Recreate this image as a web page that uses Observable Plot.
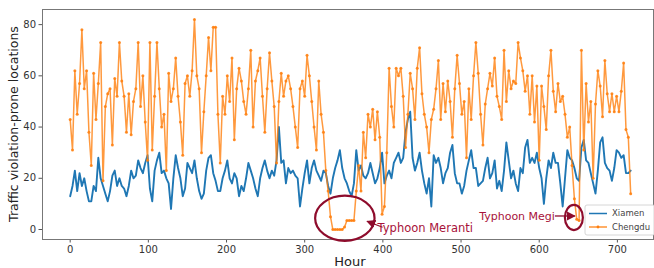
<!DOCTYPE html>
<html><head><meta charset="utf-8">
<script src="https://cdn.jsdelivr.net/npm/d3@7"></script>
<script src="https://cdn.jsdelivr.net/npm/@observablehq/plot@0.6"></script>
<style>body{margin:0;background:#fff;} svg{display:block;}</style>
</head><body><div id="chart"></div>
<script>
// sampled every 3 hours (hour index 0..717)
const hourStep = 3;
const xiamen = [
13,17,23,15,22,17,20,15,11,11,
17,15,28,20,17,14,11,15,21,23,
17,20,17,16,13,17,23,20,21,27,
24,22,26,29,16,11,23,27,30,22,
23,20,18,8,20,29,24,20,13,16,
26,24,22,27,20,15,12,14,23,28,
29,22,19,15,15,20,23,27,20,18,
22,20,13,17,15,20,26,23,20,16,
13,20,24,27,23,20,23,21,27,40,
26,27,18,24,22,23,21,20,9,16,
22,27,18,24,27,23,21,19,23,22,
17,14,20,24,27,31,24,20,18,15,
13,18,31,23,25,21,20,22,26,22,
18,20,24,30,18,21,23,20,26,28,
30,26,28,38,43,46,28,23,26,30,
23,18,14,20,9,29,26,28,24,18,
22,24,30,33,22,18,18,14,17,23,
27,31,24,24,17,18,19,24,28,20,
22,27,16,19,15,23,34,27,20,23,
18,15,24,22,32,35,26,28,26,30,
24,20,10,20,27,24,30,26,26,18,
9,20,31,28,27,24,20,19,32,35,
27,26,22,18,14,23,34,36,26,24,
23,19,24,31,30,28,29,22,22,23
];
const chengdu = [
43,31,62,45,57,78,55,62,38,25,
61,43,57,73,19,48,53,55,33,59,
52,73,58,52,38,53,37,50,55,73,
48,60,42,27,73,31,52,73,55,40,
45,23,61,50,55,67,52,42,29,57,
60,52,62,82,60,55,30,46,60,75,
62,79,79,45,26,52,45,60,50,67,
35,55,63,58,50,45,55,70,40,58,
62,67,52,38,55,69,58,48,26,50,
61,52,58,60,55,48,40,32,55,58,
52,68,60,50,40,31,58,45,38,23,
15,5,0,0,0,0,0,1,3.5,3.5,
3.5,3.5,15,25,15,38,28,45,40,47,
35,46,36,6,9,30,63,48,40,63,
60,63,52,32,45,61,55,43,63,71,
53,45,40,30,43,47,55,66,43,57,
46,58,50,36,55,68,57,45,50,28,
55,43,60,73,61,45,33,49,55,61,
56,67,52,48,43,70,50,62,55,58,
57,73,67,62,54,60,45,60,42,56,
27,56,48,39,60,70,54,46,57,50,
52,45,36,40,25,12,4,3.5,70,31,
57,42,50,20,49,62,56,44,66,53,
46,53,46,52,46,54,65,39,36,14
];
const xTicks = [0,100,200,300,400,500,600,700];
const yTicks = [0,20,40,60,80];
const seriesNames = ["Xiamen","Chengdu"];
const seriesColors = ["#1f77b4","#ff7f0e"];
const annotations = [
  {label:"Typhoon Meranti", h:352, v:4.2, rxH:38, ryV:8.8},
  {label:"Typhoon Megi", h:645, v:4.5, rxH:11.5, ryV:4.9}
];

const xiamenData = xiamen.map((v,i)=>({h:i*hourStep, v}));
const chengduData = chengdu.map((v,i)=>({h:i*hourStep, v}));

const chart = Plot.plot({
  width: 654, height: 268,
  marginLeft: 42, marginRight: 1, marginTop: 9, marginBottom: 29,
  x: {domain: [-35.4, 746.2], ticks: xTicks, label: null},
  y: {domain: [-3.9, 85.9], ticks: yTicks, label: null},
  style: {fontFamily: "DejaVu Sans", fontSize: "10px", color: "#333", background: "#fff"},
  marks: [
    Plot.axisX({ticks: xTicks, tickSize: 3.5, tickPadding: 2.5, label: null, stroke: "#555"}),
    Plot.axisY({ticks: yTicks, tickSize: 3.5, tickPadding: 3, label: null, stroke: "#555"}),
    Plot.line(xiamenData, {x:"h", y:"v", stroke: seriesColors[0], strokeWidth: 1.9}),
    Plot.line(chengduData, {x:"h", y:"v", stroke: seriesColors[1], strokeWidth: 1.5, strokeOpacity: 0.8}),
    Plot.dot(chengduData, {x:"h", y:"v", r: 1.5, fill: seriesColors[1], stroke: "none", fillOpacity: 0.85}),
    Plot.frame({stroke: "#777", strokeWidth: 1})
  ]
});
document.getElementById("chart").appendChild(chart);

const svg = d3.select(chart);
const sx = chart.scale("x"), sy = chart.scale("y");
const red = "#a8123a";

// axis titles
svg.append("text").attr("x", 350).attr("y", 266).attr("text-anchor","middle")
  .attr("font-size", 13).attr("fill","#222").text("Hour");
svg.append("text").attr("transform","translate(18,124) rotate(-90)").attr("text-anchor","middle")
  .attr("font-size", 12.5).attr("fill","#222").text("Traffic violation-prone locations");

// annotations
const defs = svg.append("defs");
defs.append("marker").attr("id","ah").attr("viewBox","0 0 10 10").attr("refX",9).attr("refY",5)
  .attr("markerWidth",7).attr("markerHeight",7).attr("orient","auto-start-reverse")
  .append("path").attr("d","M0,0L10,5L0,10z").attr("fill", "#8e0c2c");

annotations.forEach((a, i) => {
  const cx = sx.apply(a.h), cy = sy.apply(a.v);
  const rx = sx.apply(a.h + a.rxH) - cx, ry = cy - sy.apply(a.v + a.ryV);
  svg.append("ellipse").attr("cx",cx).attr("cy",cy).attr("rx",rx).attr("ry",ry)
    .attr("fill","none").attr("stroke","#8e0c2c").attr("stroke-width",2.2);
  if (i === 0) {
    svg.append("line").attr("x1", cx + rx + 8).attr("y1", cy + 9).attr("x2", cx + rx*0.75).attr("y2", cy + 3)
      .attr("stroke","#8e0c2c").attr("stroke-width",1.3).attr("marker-end","url(#ah)");
    svg.append("text").attr("x", cx + rx + 3).attr("y", cy + 10).attr("dy","0.35em").attr("text-anchor","start")
      .attr("font-size", 11.5).attr("fill", red).text(a.label);
  } else {
    svg.append("line").attr("x1", cx - rx - 10).attr("y1", cy - 1.5).attr("x2", cx + 1).attr("y2", cy - 1.5)
      .attr("stroke","#8e0c2c").attr("stroke-width",1.3).attr("marker-end","url(#ah)");
    svg.append("text").attr("x", cx - rx - 10).attr("y", cy - 1.5).attr("dy","0.35em").attr("text-anchor","end")
      .attr("font-size", 11).attr("fill", red).text(a.label);
  }
});

// legend
const lg = svg.append("g");
lg.append("rect").attr("x",585).attr("y",205).attr("width",70).attr("height",30).attr("rx",2)
  .attr("fill","#fff").attr("fill-opacity",0.85).attr("stroke","#ccc").attr("stroke-width",0.8);
seriesNames.forEach((n, i) => {
  const y = 213.5 + i*13.5;
  lg.append("line").attr("x1",589).attr("x2",607).attr("y1",y).attr("y2",y)
    .attr("stroke", seriesColors[i]).attr("stroke-width",1.5).attr("stroke-opacity", i ? 0.85 : 1);
  if (i === 1) lg.append("circle").attr("cx",598).attr("cy",y).attr("r",1.4).attr("fill",seriesColors[1]);
  lg.append("text").attr("x",612).attr("y",y).attr("dy","0.35em").attr("font-size",8.5).attr("text-anchor","start")
    .attr("fill","#444").text(n);
});
</script>
</body></html>
